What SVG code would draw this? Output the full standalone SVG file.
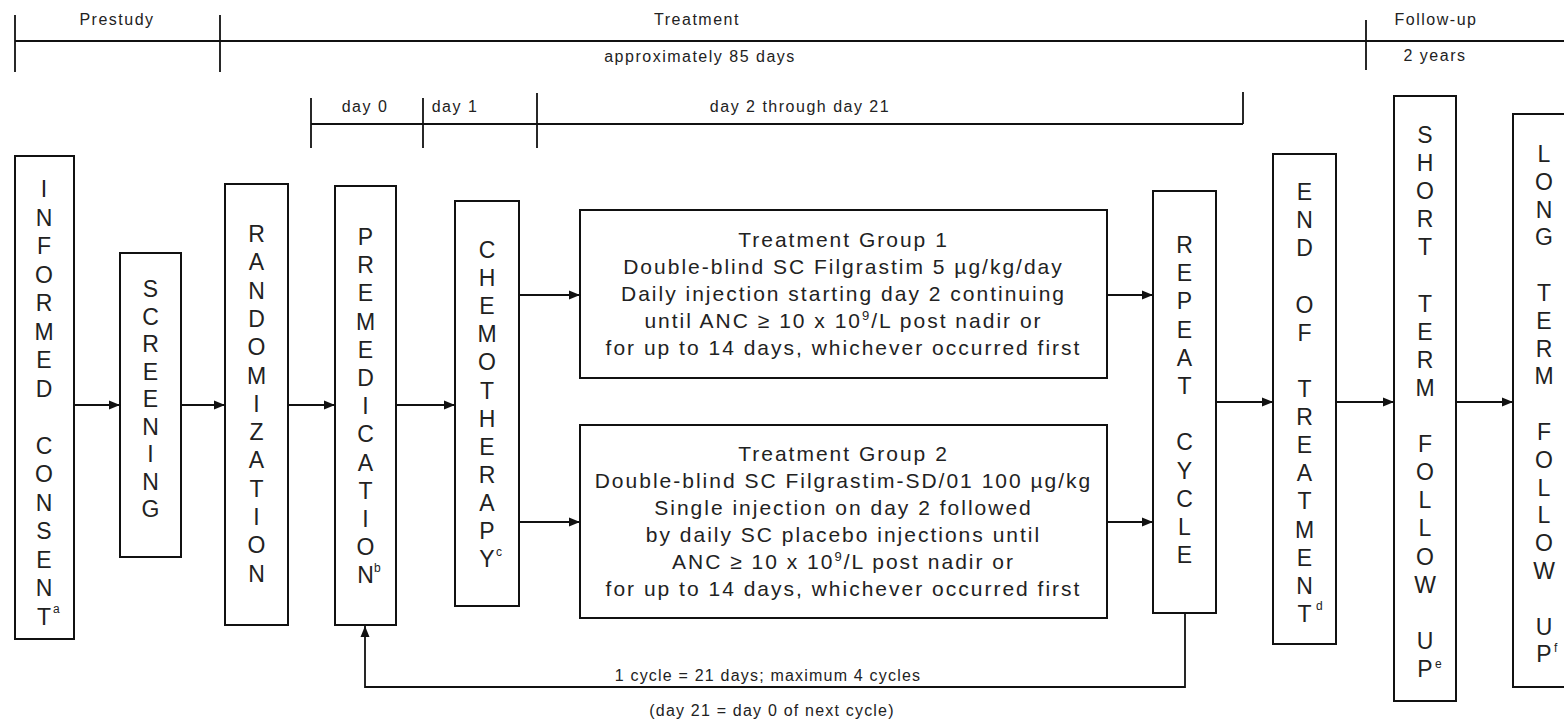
<svg xmlns="http://www.w3.org/2000/svg" width="1564" height="723" viewBox="0 0 1564 723">
<style>
  .bg{fill:#fff}
  .box{fill:#fff;stroke:#111;stroke-width:2}
  .ln{fill:none;stroke:#111;stroke-width:1.8}
  .t{font-family:"Liberation Sans",Arial,sans-serif;fill:#222}
  .hd{font-size:16px;letter-spacing:1.5px;text-anchor:middle}
  .v{font-size:23px;text-anchor:middle}
  .sup{font-size:12px}
  .tg{font-size:21px;letter-spacing:2px;text-anchor:middle}
  .lab{font-size:16px;letter-spacing:1.2px;text-anchor:middle}
</style>
<defs>
  <marker id="ah" markerUnits="userSpaceOnUse" markerWidth="12" markerHeight="12" refX="11" refY="6" orient="auto">
    <path d="M0,1.5 L11,6 L0,10.5 Z" fill="#111"/>
  </marker>
</defs>
<rect class="bg" x="0" y="0" width="1564" height="723"/>

<g id="timeline">
  <line class="ln" x1="15" y1="41" x2="1564" y2="41"/>
  <line class="ln" x1="15" y1="15" x2="15" y2="72"/>
  <line class="ln" x1="220" y1="15" x2="220" y2="72"/>
  <line class="ln" x1="1366" y1="20" x2="1366" y2="70"/>
  <text class="t hd" x="117" y="25">Prestudy</text>
  <text class="t hd" x="697" y="25">Treatment</text>
  <text class="t hd" x="700" y="62">approximately 85 days</text>
  <text class="t hd" x="1436" y="25">Follow-up</text>
  <text class="t hd" x="1435" y="61">2 years</text>
  <line class="ln" x1="311" y1="124" x2="1243" y2="124"/>
  <line class="ln" x1="311" y1="98" x2="311" y2="148"/>
  <line class="ln" x1="423" y1="98" x2="423" y2="148"/>
  <line class="ln" x1="537" y1="93" x2="537" y2="148"/>
  <line class="ln" x1="1243" y1="92" x2="1243" y2="124"/>
  <text class="t hd" x="365" y="112">day 0</text>
  <text class="t hd" x="455" y="112">day 1</text>
  <text class="t hd" x="800" y="112">day 2 through day 21</text>
</g>

<g id="informed-consent">
  <rect class="box" x="15" y="156" width="59" height="483"/>
  <text class="t v" x="44"><tspan x="44" y="197">I</tspan><tspan x="44" y="226">N</tspan><tspan x="44" y="254">F</tspan><tspan x="44" y="283">O</tspan><tspan x="44" y="311">R</tspan><tspan x="44" y="340">M</tspan><tspan x="44" y="368">E</tspan><tspan x="44" y="397">D</tspan><tspan x="44" y="454">C</tspan><tspan x="44" y="482">O</tspan><tspan x="44" y="511">N</tspan><tspan x="44" y="539">S</tspan><tspan x="44" y="568">E</tspan><tspan x="44" y="596">N</tspan><tspan x="44" y="625">T</tspan></text>
  <text class="t sup" x="53" y="613">a</text>
</g>

<g id="screening">
  <rect class="box" x="120" y="253" width="61" height="304"/>
  <text class="t v"><tspan x="150.5" y="297">S</tspan><tspan x="150.5" y="324.5">C</tspan><tspan x="150.5" y="352">R</tspan><tspan x="150.5" y="379.5">E</tspan><tspan x="150.5" y="407">E</tspan><tspan x="150.5" y="434.5">N</tspan><tspan x="150.5" y="462">I</tspan><tspan x="150.5" y="489.5">N</tspan><tspan x="150.5" y="517">G</tspan></text>
</g>

<g id="randomization">
  <rect class="box" x="225" y="184" width="63" height="441"/>
  <text class="t v"><tspan x="256.5" y="242">R</tspan><tspan x="256.5" y="270.3">A</tspan><tspan x="256.5" y="298.6">N</tspan><tspan x="256.5" y="326.9">D</tspan><tspan x="256.5" y="355.2">O</tspan><tspan x="256.5" y="383.5">M</tspan><tspan x="256.5" y="411.8">I</tspan><tspan x="256.5" y="440.1">Z</tspan><tspan x="256.5" y="468.4">A</tspan><tspan x="256.5" y="496.7">T</tspan><tspan x="256.5" y="525">I</tspan><tspan x="256.5" y="553.3">O</tspan><tspan x="256.5" y="581.6">N</tspan></text>
</g>

<g id="premedication">
  <rect class="box" x="335" y="186" width="61" height="439"/>
  <text class="t v"><tspan x="365.5" y="245">P</tspan><tspan x="365.5" y="273.2">R</tspan><tspan x="365.5" y="301.4">E</tspan><tspan x="365.5" y="329.6">M</tspan><tspan x="365.5" y="357.8">E</tspan><tspan x="365.5" y="386">D</tspan><tspan x="365.5" y="414.2">I</tspan><tspan x="365.5" y="442.4">C</tspan><tspan x="365.5" y="470.6">A</tspan><tspan x="365.5" y="498.8">T</tspan><tspan x="365.5" y="527">I</tspan><tspan x="365.5" y="555.2">O</tspan><tspan x="365.5" y="583.4">N</tspan></text>
  <text class="t sup" x="374" y="572">b</text>
</g>

<g id="chemotherapy">
  <rect class="box" x="455" y="201" width="64" height="405"/>
  <text class="t v"><tspan x="487" y="258">C</tspan><tspan x="487" y="286.1">H</tspan><tspan x="487" y="314.2">E</tspan><tspan x="487" y="342.3">M</tspan><tspan x="487" y="370.4">O</tspan><tspan x="487" y="398.5">T</tspan><tspan x="487" y="426.6">H</tspan><tspan x="487" y="454.7">E</tspan><tspan x="487" y="482.8">R</tspan><tspan x="487" y="510.9">A</tspan><tspan x="487" y="539">P</tspan><tspan x="487" y="567.1">Y</tspan></text>
  <text class="t sup" x="496" y="556">c</text>
</g>

<g id="treatment-group-1">
  <rect class="box" x="580" y="210" width="527" height="168"/>
  <text class="t tg" x="843.5" y="247">Treatment Group 1</text>
  <text class="t tg" x="843.5" y="274">Double-blind SC Filgrastim 5 µg/kg/day</text>
  <text class="t tg" x="843.5" y="301">Daily injection starting day 2 continuing</text>
  <text class="t tg" x="843.5" y="328">until ANC ≥ 10 x 10<tspan font-size="13" dy="-8">9</tspan><tspan dy="8">/L post nadir or</tspan></text>
  <text class="t tg" x="843.5" y="355">for up to 14 days, whichever occurred first</text>
</g>

<g id="treatment-group-2">
  <rect class="box" x="580" y="425" width="527" height="193"/>
  <text class="t tg" x="843.5" y="461">Treatment Group 2</text>
  <text class="t tg" x="843.5" y="488">Double-blind SC Filgrastim-SD/01 100 µg/kg</text>
  <text class="t tg" x="843.5" y="515">Single injection on day 2 followed</text>
  <text class="t tg" x="843.5" y="542">by daily SC placebo injections until</text>
  <text class="t tg" x="843.5" y="569">ANC ≥ 10 x 10<tspan font-size="13" dy="-8">9</tspan><tspan dy="8">/L post nadir or</tspan></text>
  <text class="t tg" x="843.5" y="596">for up to 14 days, whichever occurred first</text>
</g>

<g id="repeat-cycle">
  <rect class="box" x="1153" y="191" width="63" height="422"/>
  <text class="t v"><tspan x="1184.5" y="253">R</tspan><tspan x="1184.5" y="281.2">E</tspan><tspan x="1184.5" y="309.4">P</tspan><tspan x="1184.5" y="337.6">E</tspan><tspan x="1184.5" y="365.8">A</tspan><tspan x="1184.5" y="394">T</tspan><tspan x="1184.5" y="450.4">C</tspan><tspan x="1184.5" y="478.6">Y</tspan><tspan x="1184.5" y="506.8">C</tspan><tspan x="1184.5" y="535">L</tspan><tspan x="1184.5" y="563.2">E</tspan></text>
</g>

<g id="end-of-treatment">
  <rect class="box" x="1273" y="154" width="63" height="490"/>
  <text class="t v"><tspan x="1304.5" y="200">E</tspan><tspan x="1304.5" y="228.1">N</tspan><tspan x="1304.5" y="256.3">D</tspan><tspan x="1304.5" y="312.5">O</tspan><tspan x="1304.5" y="340.7">F</tspan><tspan x="1304.5" y="396.9">T</tspan><tspan x="1304.5" y="425">R</tspan><tspan x="1304.5" y="453.2">E</tspan><tspan x="1304.5" y="481.3">A</tspan><tspan x="1304.5" y="509.4">T</tspan><tspan x="1304.5" y="537.6">M</tspan><tspan x="1304.5" y="565.7">E</tspan><tspan x="1304.5" y="593.8">N</tspan><tspan x="1304.5" y="622">T</tspan></text>
  <text class="t sup" x="1316" y="610">d</text>
</g>

<g id="short-term-follow-up">
  <rect class="box" x="1394" y="96" width="62" height="605"/>
  <text class="t v"><tspan x="1425" y="143">S</tspan><tspan x="1425" y="171.1">H</tspan><tspan x="1425" y="199.2">O</tspan><tspan x="1425" y="227.3">R</tspan><tspan x="1425" y="255.4">T</tspan><tspan x="1425" y="311.6">T</tspan><tspan x="1425" y="339.7">E</tspan><tspan x="1425" y="367.8">R</tspan><tspan x="1425" y="395.9">M</tspan><tspan x="1425" y="452.1">F</tspan><tspan x="1425" y="480.2">O</tspan><tspan x="1425" y="508.3">L</tspan><tspan x="1425" y="536.4">L</tspan><tspan x="1425" y="564.5">O</tspan><tspan x="1425" y="592.6">W</tspan><tspan x="1425" y="648.8">U</tspan><tspan x="1425" y="676.9">P</tspan></text>
  <text class="t sup" x="1435" y="668">e</text>
</g>

<g id="long-term-follow-up">
  <rect class="box" x="1513" y="114" width="70" height="573"/>
  <text class="t v"><tspan x="1544" y="162">L</tspan><tspan x="1544" y="189.8">O</tspan><tspan x="1544" y="217.6">N</tspan><tspan x="1544" y="245.4">G</tspan><tspan x="1544" y="301">T</tspan><tspan x="1544" y="328.8">E</tspan><tspan x="1544" y="356.6">R</tspan><tspan x="1544" y="384.4">M</tspan><tspan x="1544" y="440">F</tspan><tspan x="1544" y="467.8">O</tspan><tspan x="1544" y="495.6">L</tspan><tspan x="1544" y="523.4">L</tspan><tspan x="1544" y="551.2">O</tspan><tspan x="1544" y="579">W</tspan><tspan x="1544" y="634.6">U</tspan><tspan x="1544" y="662.4">P</tspan></text>
  <text class="t sup" x="1554" y="652">f</text>
</g>

<g id="connectors">
  <line class="ln" x1="74" y1="405" x2="120" y2="405" marker-end="url(#ah)"/>
  <line class="ln" x1="181" y1="405" x2="225" y2="405" marker-end="url(#ah)"/>
  <line class="ln" x1="288" y1="405" x2="335" y2="405" marker-end="url(#ah)"/>
  <line class="ln" x1="396" y1="405" x2="455" y2="405" marker-end="url(#ah)"/>
  <line class="ln" x1="519" y1="295" x2="580" y2="295" marker-end="url(#ah)"/>
  <line class="ln" x1="519" y1="522" x2="580" y2="522" marker-end="url(#ah)"/>
  <line class="ln" x1="1107" y1="295" x2="1153" y2="295" marker-end="url(#ah)"/>
  <line class="ln" x1="1107" y1="522" x2="1153" y2="522" marker-end="url(#ah)"/>
  <line class="ln" x1="1216" y1="402" x2="1273" y2="402" marker-end="url(#ah)"/>
  <line class="ln" x1="1336" y1="402" x2="1394" y2="402" marker-end="url(#ah)"/>
  <line class="ln" x1="1456" y1="402" x2="1513" y2="402" marker-end="url(#ah)"/>
  <polyline class="ln" points="1185,613 1185,687 365,687 365,626" marker-end="url(#ah)"/>
  <text class="t lab" x="768" y="681">1 cycle = 21 days; maximum 4 cycles</text>
  <text class="t lab" x="772" y="716">(day 21 = day 0 of next cycle)</text>
</g>
</svg>
